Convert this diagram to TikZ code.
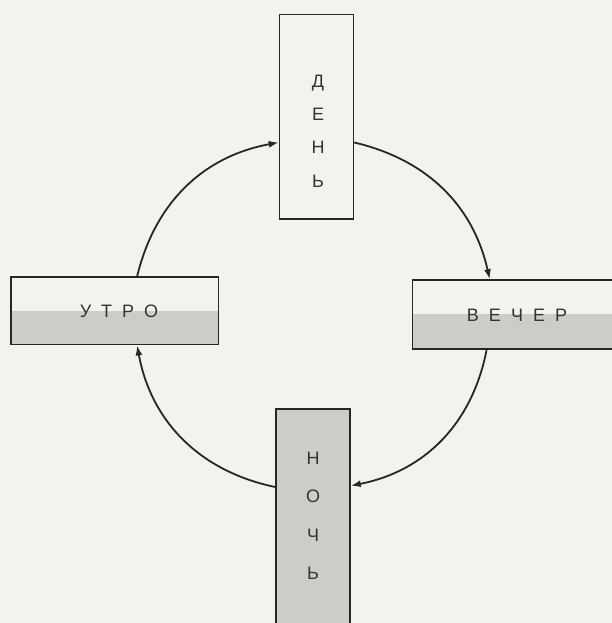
\documentclass[tikz,border=0pt]{standalone}
\usepackage{fontspec}
\setmainfont{Liberation Sans}
\usetikzlibrary{arrows.meta}

\definecolor{paper}{RGB}{242,242,239}
\definecolor{band}{RGB}{204,204,201}
\newcommand{\gap}{\hspace{10pt}}

\begin{document}
\begin{tikzpicture}[x=1pt,y=1pt,
        box/.style={draw=black!85,line width=1.6pt,inner sep=0pt},
        half/.style={box,path picture={\fill[band] (path picture bounding box.west) rectangle (path picture bounding box.south east);}},
        word/.style={text=black!80,inner sep=0pt},
        arc/.style={line width=1.8pt,black!85,-{Latex[length=10pt,width=7pt]}}]

    \fill[paper] (0,0) rectangle (612,623);
    \useasboundingbox (0,0) rectangle (612,623);

    % the four boxes
    \node[box,minimum width=74pt,minimum height=204.6pt] (den) at (316.5,506) {};
    \node[half,minimum width=207.7pt,minimum height=67.6pt] (utro) at (114.7,312.2) {};
    \node[half,minimum width=209.4pt,minimum height=69pt] (vecher) at (517.3,308.5) {};
    \node[box,fill=band,minimum width=74pt,minimum height=229pt] (noch) at (313,99.5) {};

    % their words
    \node[word,align=center,font=\fontsize{18}{33.3}\selectfont] (den-t) at (318,492) {Д\\Е\\Н\\Ь};
    \node[word,font=\fontsize{18}{20}\selectfont] (utro-t) at (119,312) {У\gap Т\gap Р\gap О};
    \node[word,font=\fontsize{18}{20}\selectfont] (vecher-t) at (517,308) {В\gap Е\gap Ч\gap Е\gap Р};
    \node[word,align=center,font=\fontsize{18}{38.5}\selectfont] (noch-t) at (313,107) {Н\\О\\Ч\\Ь};

    % the round
    \draw[arc] (utro.57) to[bend left=33] (den.214.6);
    \draw[arc] (den.-34.5) to[bend left=32] (vecher.128.4);
    \draw[arc] (vecher.229.7) to[bend left=34] (noch.45.4);
    \draw[arc] (noch.136.2) to[bend left=34] (utro.-57.1);
\end{tikzpicture}
\end{document}
